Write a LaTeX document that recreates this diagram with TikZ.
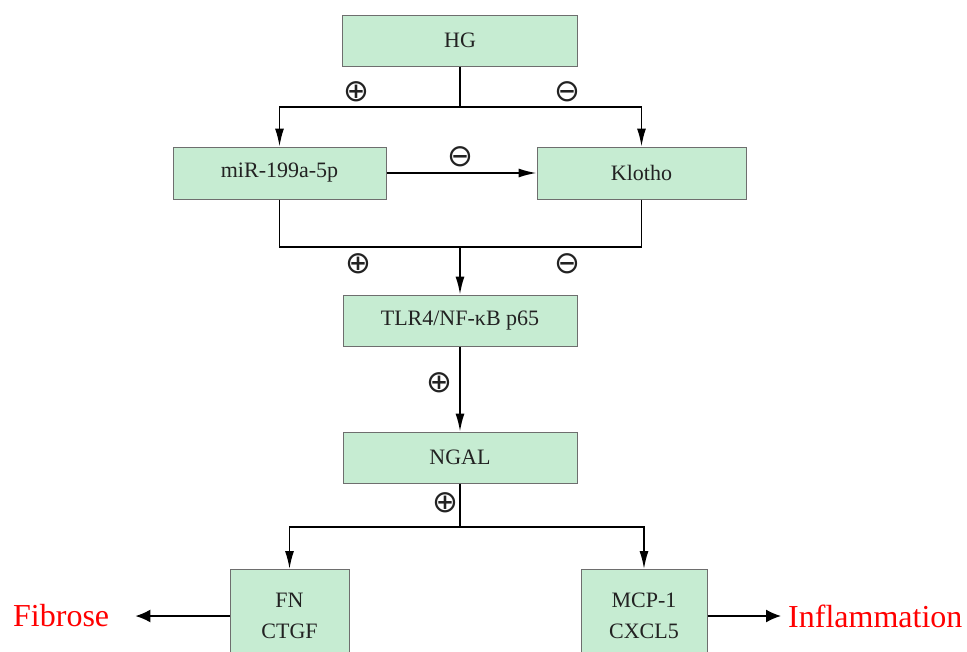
\documentclass[tikz,border=0pt]{standalone}
\usepackage{fontspec}
\setmainfont{Liberation Serif}
\newfontfamily\symfont{DejaVu Sans}
\usetikzlibrary{arrows.meta}
\definecolor{boxfill}{HTML}{C6ECD2}
\definecolor{boxline}{HTML}{6E6E6E}
\definecolor{txt}{HTML}{222222}
\begin{document}
\begin{tikzpicture}[x=1pt,y=-1pt,
  box/.style={draw=boxline,fill=boxfill,line width=1pt,inner sep=0pt,text=txt,
    font=\fontsize{22}{31}\selectfont,align=center},
  conn/.style={line width=1.6pt,black},
  arr/.style={conn,-{Latex[length=18pt,width=9pt]}},
  bigarr/.style={conn,-{Latex[length=15pt,width=13pt]}},
  sign/.style={font=\symfont\fontsize{31}{31}\selectfont,inner sep=0pt,text=txt},
  outlbl/.style={text=red,font=\fontsize{32}{32}\selectfont,inner sep=0pt}]
\useasboundingbox (0,0) rectangle (967,651);
\clip (0,0) rectangle (967,651);
% boxes
\node[box,minimum width=235pt,minimum height=51pt] (hg) at (460,40.5) {HG};
\node[box,minimum width=213pt,minimum height=52pt] (mir) at (279.5,173) {miR-199a-5p};
\node[box,minimum width=209pt,minimum height=52pt] (klotho) at (641.5,173) {Klotho};
\node[box,minimum width=234pt,minimum height=51pt] (tlr) at (460,320.5) {TLR4/NF-κB p65};
\node[box,minimum width=234pt,minimum height=51pt] (ngal) at (460,457.5) {NGAL};
\node[box,minimum width=119pt,minimum height=92pt,anchor=north] (fn) at (289.5,569) {FN\\CTGF};
\node[box,minimum width=126pt,minimum height=92pt,anchor=north] (mcp) at (644,569) {MCP-1\\CXCL5};
% outcome labels
\node[outlbl,anchor=west] (fib) at (13,616) {Fibrose};
\node[outlbl,anchor=west] (inf) at (788,616) {Inflammation};
% junction coordinates
\coordinate (j1) at (460,107);
\coordinate (j2) at (460,247);
\coordinate (j3) at (460,527);
% HG split
\draw[conn] (hg.south) -- (j1);
\draw[arr] (j1) -| (mir.north);
\draw[arr] (j1) -| (klotho.north);
% miR -> Klotho
\draw[arr] (mir.east) -- (klotho.west);
% merge to TLR4
\draw[conn] (mir.south) |- (j2);
\draw[conn] (klotho.south) |- (j2);
\draw[arr] (j2) -- (tlr.north);
% TLR4 -> NGAL
\draw[arr] (tlr.south) -- (ngal.north);
% NGAL split
\draw[conn] (ngal.south) -- (j3);
\draw[arr] (j3) -| (fn.north);
\draw[arr] (j3) -| (mcp.north);
% outcomes
\draw[bigarr,shorten >=26pt] (fn.west |- fib.east) -- (fib.east);
\draw[bigarr,shorten >=7pt] (mcp.east |- inf.west) -- (inf.west);
% signs
\node[sign] (s1) at (356,92) {⊕};
\node[sign] (s2) at (567,92) {⊖};
\node[sign] (s3) at (460,157) {⊖};
\node[sign] (s4) at (358,264) {⊕};
\node[sign] (s5) at (567,264) {⊖};
\node[sign] (s6) at (439,383) {⊕};
\node[sign] (s7) at (445,503) {⊕};
\end{tikzpicture}
\end{document}
